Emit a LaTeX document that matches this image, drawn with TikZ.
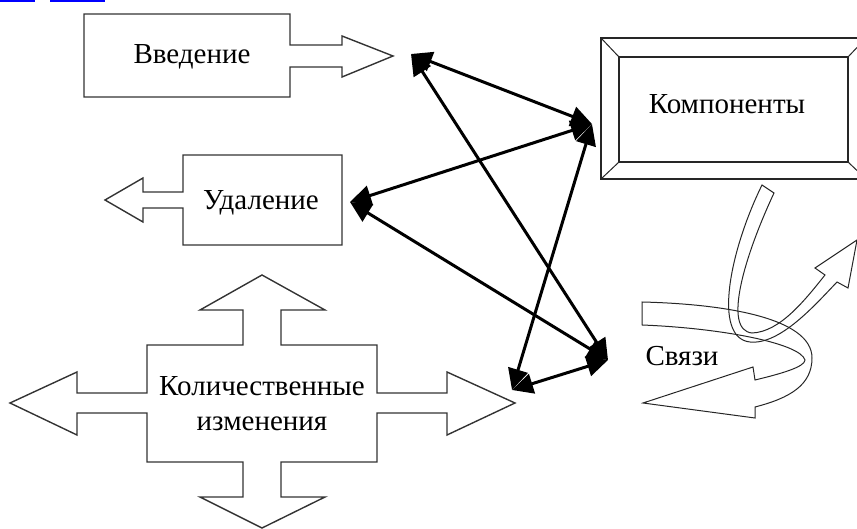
\documentclass[tikz,border=0pt]{standalone}
\usepackage{fontspec}
\setmainfont{Liberation Serif}
\usetikzlibrary{arrows.meta}
\tikzset{
  outline/.style={draw=black!80, line width=1.4pt, line join=miter},
  frameline/.style={draw=black!85, line width=1.5pt},
  tape/.style={draw=black!85, line width=1pt},
  link/.style={line width=3pt, {Triangle[length=21pt,width=20pt]}-{Triangle[length=21pt,width=20pt]}},
  lbl/.style={font=\fontsize{29}{35}\selectfont, inner sep=0pt, align=center},
  linkmark/.style={draw=blue, line width=2.5pt}
}
\begin{document}
\begin{tikzpicture}[x=1pt,y=-1pt]
\useasboundingbox (0,0) rectangle (857,529);
\clip (0,0) rectangle (857,529);

% hyperlink underline fragment at top
\draw[linkmark] (0,1) -- (35,1);
\draw[linkmark] (50,1) -- (105,1);

% Введение box with right arrow
\draw[outline] (84,14) -- (290,14) -- (290,45) -- (342,45) -- (342,36) -- (393,56)
  -- (342,77) -- (342,67) -- (290,67) -- (290,97) -- (84,97) -- cycle;
\node[lbl] (vved) at (192,57) {Введение};

% Удаление box with left arrow
\draw[outline] (183,155) -- (342,155) -- (342,245) -- (183,245) -- (183,208) -- (143,208)
  -- (143,222) -- (105,200) -- (143,178) -- (143,192) -- (183,192) -- cycle;
\node[lbl] (udal) at (261,203) {Удаление};

% Количественные изменения cross
\draw[outline] (147,345) -- (243,345) -- (243,310) -- (200,310) -- (262,275) -- (325,310)
  -- (281,310) -- (281,345) -- (377,345) -- (377,393) -- (447,393) -- (447,372)
  -- (515,403) -- (447,435) -- (447,413) -- (377,413) -- (377,462) -- (281,462)
  -- (281,497) -- (325,497) -- (262,528) -- (200,497) -- (243,497) -- (243,462)
  -- (147,462) -- (147,413) -- (77,413) -- (77,435) -- (10,403) -- (77,372)
  -- (77,393) -- (147,393) -- cycle;
\node[lbl] (kol) at (262,404) {Количественные\\изменения};

% Компоненты bevelled frame
\draw[frameline] (601,38) rectangle (866,179);
\draw[frameline] (619,57) rectangle (848,162);
\draw[tape] (601,38) -- (619,57);
\draw[tape] (601,179) -- (619,162);
\draw[tape] (848,57) -- (866,38);
\draw[tape] (848,162) -- (866,179);
\node[lbl] (komp) at (727,104) {Компоненты};

% curved tape arrow going up-right
\draw[tape] (837,282) .. controls (815,305) and (780,345) .. (750,342)
  .. controls (712,338) and (730,250) .. (762,185) -- (774,193)
  .. controls (745,255) and (722,330) .. (752,333)
  .. controls (780,332) and (805,300) .. (825,275)
  -- (815,268) -- (857,240) -- (848,288) -- cycle;

% twisted tape arrow going left (Связи)
\draw[tape] (642,302) .. controls (725,304) and (812,318) .. (812,358)
  .. controls (812,385) and (790,398) .. (755,407)
  -- (755,418) -- (643,403) -- (753,367) -- (755,380)
  .. controls (780,374) and (805,367) .. (805,360)
  .. controls (800,343) and (720,328) .. (642,325) -- cycle;
\node[lbl] (svyaz) at (682,356) {Связи};

% black double-headed links
\coordinate (A) at (411,54);
\coordinate (B) at (592,124);
\coordinate (C) at (350,202);
\coordinate (D) at (608,360);
\coordinate (E) at (512,390);
\draw[link] (A) -- (B);
\draw[link] (C) -- (B);
\draw[link] (E) -- (B);
\draw[link] (A) -- (D);
\draw[link] (C) -- (D);
\draw[link] (E) -- (D);
\end{tikzpicture}
\end{document}
